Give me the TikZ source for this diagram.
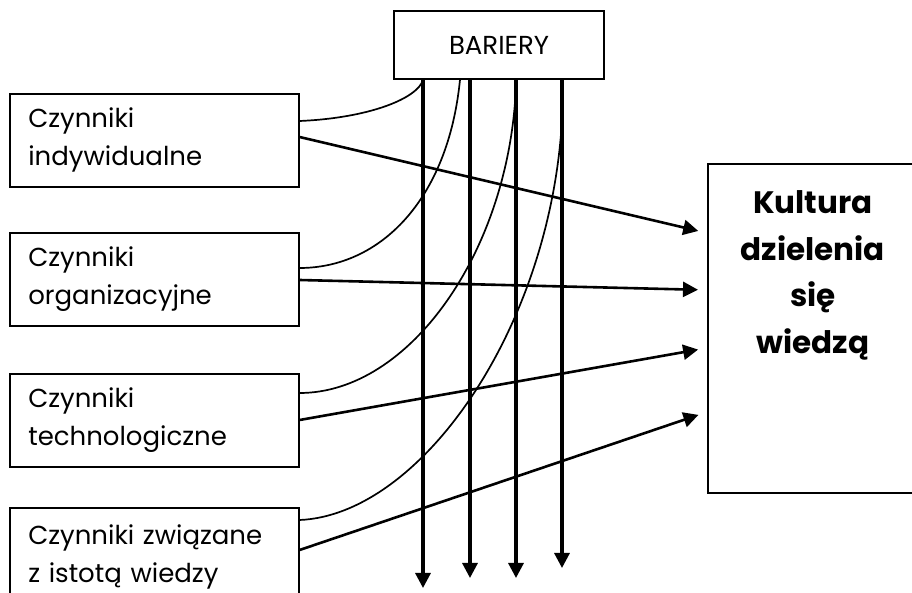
\documentclass[tikz,border=0pt]{standalone}
\usepackage{fontspec}
\setmainfont{Poppins}
\usetikzlibrary{arrows.meta}

\begin{document}
\begin{tikzpicture}[x=0.5pt, y=-0.5pt,
        >={Triangle[length=7.5pt, width=7.5pt]},
        factor/.style={draw, line width=0.8pt, anchor=north west, align=left,
            text width=126pt, inner xsep=9pt, minimum width=144.5pt,
            minimum height=46.5pt, font=\fontsize{13}{19}\selectfont},
        barrier/.style={line width=1.6pt},
        push/.style={line width=1.3pt, shorten >=4.5pt},
        curveline/.style={line width=0.85pt}]
        % the page
        \path[use as bounding box, clip] (0,0) rectangle (912,593);

        % The box on top -> BARIERY
        \node[draw, line width=0.8pt, minimum width=105pt, minimum height=34pt,
            font=\fontsize{13}{15}\selectfont] (bar) at (499,45) {BARIERY};

        % the four boxes on the left
        \node[factor] (ind) at (9,93) {Czynniki\\indywidualne};
        \node[factor] (org) at (9,232) {Czynniki\\organizacyjne};
        \node[factor] (tech) at (9,373) {Czynniki\\technologiczne};
        \node[factor, minimum height=49pt] (ist) at (9,507) {Czynniki związane\\z istotą wiedzy};

        % the big box on the right
        \node[draw, line width=0.8pt, anchor=north west, align=center,
            text width=95pt, inner xsep=5pt, inner ysep=0pt,
            text height=25pt, text depth=139.5pt,
            font=\fontsize{15.5}{23.3}\selectfont\bfseries] (kult) at (707,163)
            {Kultura\\dzielenia\\się\\wiedzą};

        % the ends of the vertical arrows
        \foreach \x/\e [count=\i] in {423/588, 470/578, 516/578, 562/568}
        \coordinate (end\i) at (\x,\e);

        % vertical arrows down from BARIERY
        \foreach \i in {1,...,4}
        \draw[barrier, ->] (bar.south -| end\i) -- (end\i);

        % curved lines from the boxes up to BARIERY
        \draw[curveline] (ind.east |- 0,121) .. controls (370,118) and (418,98) .. (bar.south -| end1);
        \draw[curveline] (org.east |- 0,268) .. controls (380,268) and (448,200) .. (bar.south -| 460,0);
        \draw[curveline] (tech.east |- 0,393) .. controls (410,393) and (510,250) .. (516,85);
        \draw[curveline] (ist.east |- 0,520) .. controls (420,515) and (550,330) .. (562,120);

        % straight arrows to the big box
        \draw[push, ->] (ind.east |- 0,137) -- (kult.west |- 0,233);
        \draw[push, ->] (org.east |- 0,280) -- (kult.west |- 0,290);
        \draw[push, ->] (tech.east |- 0,420) -- (kult.west |- 0,348);
        \draw[push, ->] (ist.east |- 0,550) -- (kult.west |- 0,412);
    \end{tikzpicture}
\end{document}
